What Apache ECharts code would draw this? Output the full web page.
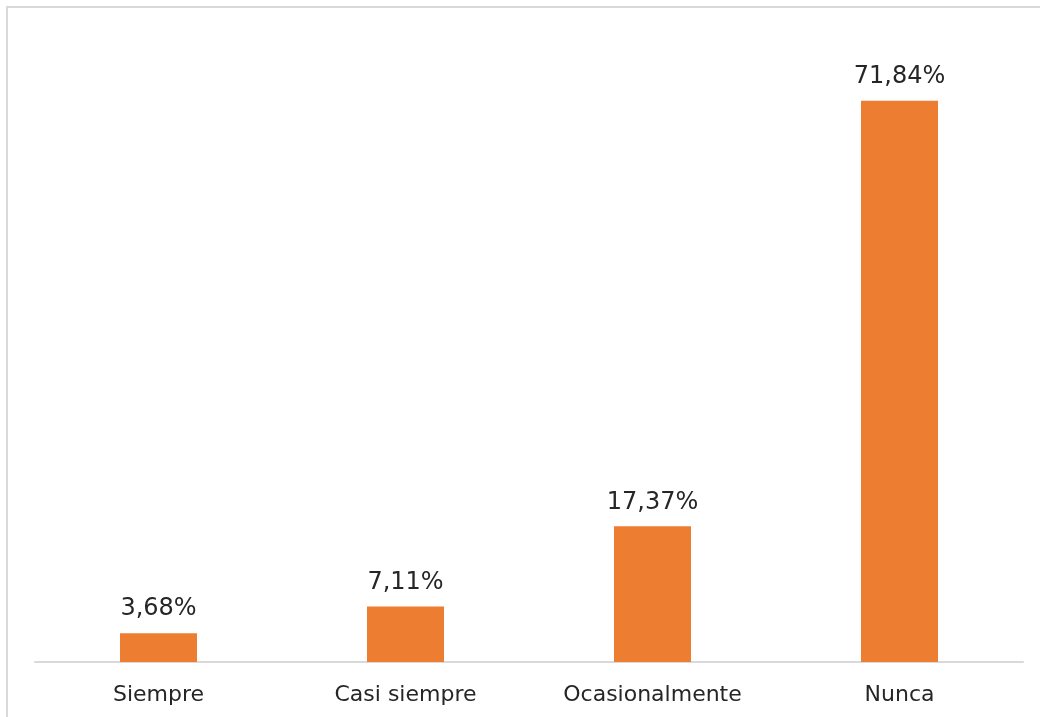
<!DOCTYPE html>
<html>
<head>
<meta charset="utf-8">
<script src="https://cdn.jsdelivr.net/npm/echarts@6/dist/echarts.min.js"></script>
<style>
  html, body { margin: 0; padding: 0; background: #fff; }
  #chart { width: 1040px; height: 717px; }
</style>
</head>
<body>
<div id="chart"></div>
<script>
// categorias y porcentajes
const categories = ['Siempre', 'Casi siempre', 'Ocasionalmente', 'Nunca'];
const values = [3.68, 7.11, 17.37, 71.84];

const chart = echarts.init(document.getElementById('chart'));
const fontFamily = '"DejaVu Sans", sans-serif';

const option = {
  animation: false,
  backgroundColor: '#fff',
  graphic: [
    {
      type: 'rect',
      shape: { x: 7, y: 7, width: 1100, height: 800 },
      style: { fill: 'none', stroke: '#d9d9d9', lineWidth: 2 },
      silent: true
    }
  ],
  grid: { left: 35, right: 17, top: 37, bottom: 55 },
  xAxis: {
    type: 'category',
    data: categories,
    axisLine: { show: true, lineStyle: { color: '#d9d9d9', width: 2 } },
    axisTick: { show: false },
    axisLabel: { color: '#262626', fontSize: 22, fontFamily: fontFamily, margin: 22 }
  },
  yAxis: {
    type: 'value',
    min: 0,
    max: 80,
    show: false,
    splitLine: { show: false }
  },
  series: [
    {
      type: 'bar',
      data: values,
      barWidth: 77,
      itemStyle: { color: '#ed7d31' },
      label: {
        show: true,
        position: 'top',
        distance: 12,
        color: '#262626',
        fontSize: 24,
        fontFamily: fontFamily,
        formatter: function (p) {
          return p.value.toFixed(2).replace('.', ',') + '%';
        }
      }
    }
  ]
};
chart.setOption(option);
</script>
</body>
</html>
